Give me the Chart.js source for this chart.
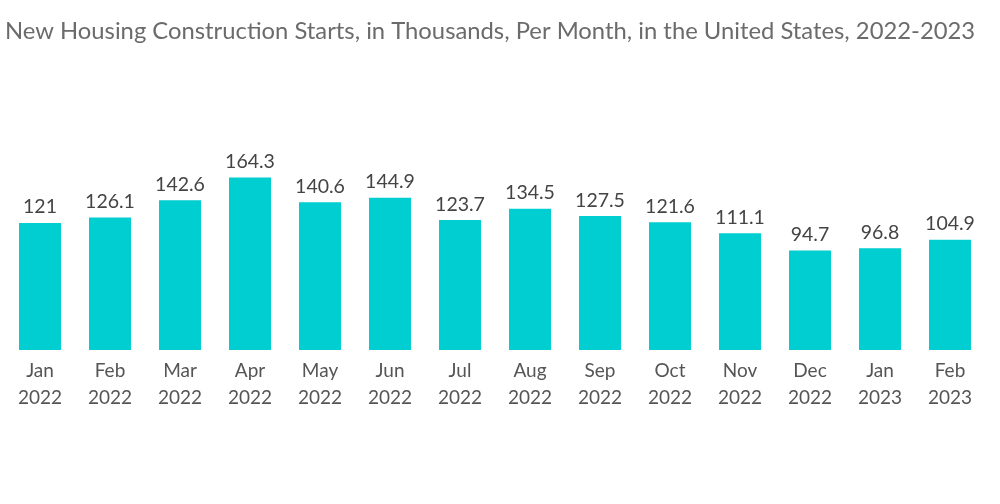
<!DOCTYPE html>
<html>
<head>
<meta charset="utf-8">
<script src="https://cdn.jsdelivr.net/npm/chart.js@4/dist/chart.umd.min.js"></script>
<style>
html,body{margin:0;padding:0;background:#fff;}
#wrap{width:1000px;height:504px;position:relative;}
</style>
</head>
<body>
<div id="wrap"><canvas id="c"></canvas></div>
<script>
const months = ["Jan","Feb","Mar","Apr","May","Jun","Jul","Aug","Sep","Oct","Nov","Dec","Jan","Feb"];
const years = ["2022","2022","2022","2022","2022","2022","2022","2022","2022","2022","2022","2022","2023","2023"];
const starts = [121,126.1,142.6,164.3,140.6,144.9,123.7,134.5,127.5,121.6,111.1,94.7,96.8,104.9];
const titleText = "New Housing Construction Starts, in Thousands, Per Month, in the United States, 2022-2023";

const labels = months.map((m,i)=>[m, years[i]]);

const valueLabels = {
  id:'valueLabels',
  afterDatasetsDraw(chart){
    const ctx = chart.ctx;
    const meta = chart.getDatasetMeta(0);
    ctx.save();
    ctx.font = '19.5px Lato';
    ctx.fillStyle = '#444';
    ctx.textAlign = 'center';
    ctx.textBaseline = 'bottom';
    meta.data.forEach((bar,i)=>{
      ctx.fillText(String(starts[i]), bar.x, bar.y - 6);
    });
    ctx.restore();
  }
};

new Chart(document.getElementById('c'), {
  type:'bar',
  data:{
    labels: labels,
    datasets:[{
      data: starts,
      backgroundColor:'#00CED1',
      borderWidth:0,
      barPercentage:0.6,
      categoryPercentage:1.0
    }]
  },
  options:{
    responsive:true,
    maintainAspectRatio:false,
    animation:false,
    devicePixelRatio:1,
    layout:{padding:{left:5,right:15,top:0,bottom:94}},
    plugins:{
      legend:{display:false},
      tooltip:{enabled:false},
      title:{
        display:true,
        text:titleText,
        align:'start',
        color:'#6b6b6b',
        font:{family:'Lato',size:23.8,weight:'normal'},
        padding:{top:17,bottom:94.4}
      }
    },
    scales:{
      x:{
        grid:{display:false},
        border:{display:false},
        ticks:{
          color:'#555',
          font:{family:'Lato',size:19,lineHeight:1.42},
          padding:-1,
          maxRotation:0,
          autoSkip:false
        }
      },
      y:{
        display:false,
        min:0,
        max:200
      }
    }
  },
  plugins:[valueLabels]
});
</script>
</body>
</html>
